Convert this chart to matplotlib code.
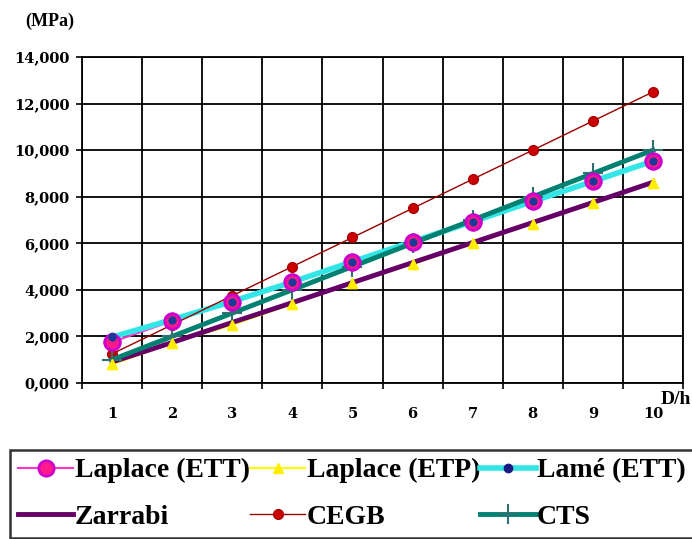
"""Stress vs D/h comparison chart (Laplace, Lamé, Zarrabi, CEGB, CTS)."""

import matplotlib
matplotlib.use("Agg")
import matplotlib.pyplot as plt
from matplotlib.font_manager import FontProperties
from matplotlib.ticker import FixedLocator, FuncFormatter

# D/h categories
d_over_h = [1, 2, 3, 4, 5, 6, 7, 8, 9, 10]

# Stress values (MPa)
laplace_ett = [1.76, 2.66, 3.47, 4.33, 5.20, 6.06, 6.93, 7.80, 8.66, 9.53]
laplace_etp = [0.80, 1.72, 2.50, 3.40, 4.29, 5.10, 6.00, 6.84, 7.72, 8.60]
lame_ett = [1.97, 2.72, 3.50, 4.34, 5.21, 6.07, 6.93, 7.80, 8.66, 9.53]
zarrabi = [0.90, 1.74, 2.60, 3.45, 4.31, 5.17, 6.03, 6.89, 7.75, 8.62]
cegb = [1.25, 2.50, 3.75, 5.00, 6.25, 7.50, 8.75, 10.00, 11.25, 12.50]
cts = [1.00, 2.00, 3.00, 4.00, 5.00, 6.00, 7.00, 8.00, 9.00, 10.00]

y_ticks = [0, 2, 4, 6, 8, 10, 12, 14]

TICK_FONT = FontProperties(family="DejaVu Serif", weight="bold", size=10.5)
LEGEND_FONT = FontProperties(family="Liberation Serif", weight="bold", size=20)

fig = plt.figure(figsize=(6.92, 5.39), dpi=100)
ax = fig.add_axes([82 / 692, 1 - 383 / 539, 601 / 692, 326 / 539])

# Series, drawn in the original series order
h_ett, = ax.plot(d_over_h, laplace_ett, color="#ff33cc", linewidth=1.5,
                 marker="o", markersize=11, markerfacecolor="#ff1a8c",
                 markeredgecolor="#cc00cc", markeredgewidth=2,
                 label="Laplace (ETT)", zorder=3)
h_etp, = ax.plot(d_over_h, laplace_etp, color="#ffff00", linewidth=1.5,
                 marker="^", markersize=7, markerfacecolor="#ffee00",
                 markeredgecolor="#ffee00", label="Laplace (ETP)", zorder=3.1)
h_lame, = ax.plot(d_over_h, lame_ett, color="#33e6e6", linewidth=4,
                  marker="o", markersize=6, markerfacecolor="#1a1a80",
                  markeredgecolor="#1a1a80", label="Lamé (ETT)", zorder=3.2)
h_zar, = ax.plot(d_over_h, zarrabi, color="#660066", linewidth=3.5,
                 label="Zarrabi", zorder=3.3)
h_cegb, = ax.plot(d_over_h, cegb, color="#990000", linewidth=1, marker="o",
                  markersize=7, markerfacecolor="#cc0000",
                  markeredgecolor="#aa0000", label="CEGB", zorder=3.4)
h_cts, = ax.plot(d_over_h, cts, color="#008070", linewidth=3.5, marker="+",
                 markersize=14, markeredgecolor="#2f6f6f",
                 markeredgewidth=1.5, label="CTS", zorder=3.5)

# Markers on top of the thick lines, as in the original
ax.plot(d_over_h, laplace_etp, linestyle="none", marker="^", markersize=7,
        color="#ffee00", zorder=4)
ax.plot(d_over_h, laplace_ett, linestyle="none", marker="o", markersize=11,
        markerfacecolor="#ff1a8c", markeredgecolor="#cc00cc",
        markeredgewidth=2, zorder=4.1)
ax.plot(d_over_h, lame_ett, linestyle="none", marker="o", markersize=5,
        color="#1a3a99", zorder=4.2)

# Axes: categories centred between gridlines
ax.set_xlim(0.5, 10.5)
ax.set_ylim(0, 14)
ax.xaxis.set_major_locator(FixedLocator([i + 0.5 for i in range(0, 11)]))
ax.set_xticklabels([])
ax.set_xticks(d_over_h, minor=True)
ax.set_xticklabels([str(v) for v in d_over_h], minor=True)
for lbl in ax.get_xticklabels(minor=True):
    lbl.set_fontproperties(TICK_FONT)
ax.tick_params(axis="x", which="minor", length=0, pad=17)
ax.tick_params(axis="x", which="major", length=4, width=1.2)

ax.set_yticks(y_ticks)
ax.yaxis.set_major_formatter(
    FuncFormatter(lambda v, _: f"{v:.3f}".replace(".", ","))
)
for lbl in ax.get_yticklabels():
    lbl.set_fontproperties(TICK_FONT)
ax.tick_params(axis="y", length=4, width=1.2, pad=5)

ax.grid(True, which="major", color="black", linewidth=1.3)
for spine in ax.spines.values():
    spine.set_linewidth(1.3)

# Unit labels
fig.text(25 / 692, 1 - 21 / 539, "(MPa)", ha="left", va="center",
         fontfamily="Liberation Serif", fontweight="bold", fontsize=13)
fig.text(661 / 692, 1 - 400 / 539, "D/h", ha="left", va="center",
         fontfamily="Liberation Serif", fontweight="bold", fontsize=14)

# Legend box, filled row by row and running off the right edge
handles = [h_ett, h_zar, h_etp, h_cegb, h_lame, h_cts]
leg = fig.legend(handles=handles, labels=[h.get_label() for h in handles],
                 loc="upper left", bbox_to_anchor=(10 / 692, 1 - 450 / 539),
                 ncol=3, prop=LEGEND_FONT, frameon=True, fancybox=False,
                 edgecolor="black", handlelength=2.0, handletextpad=0.05,
                 columnspacing=0.0, labelspacing=0.77, borderpad=0.28,
                 borderaxespad=0)
leg.get_frame().set_linewidth(1.8)

fig.savefig("out.png", dpi=100)
